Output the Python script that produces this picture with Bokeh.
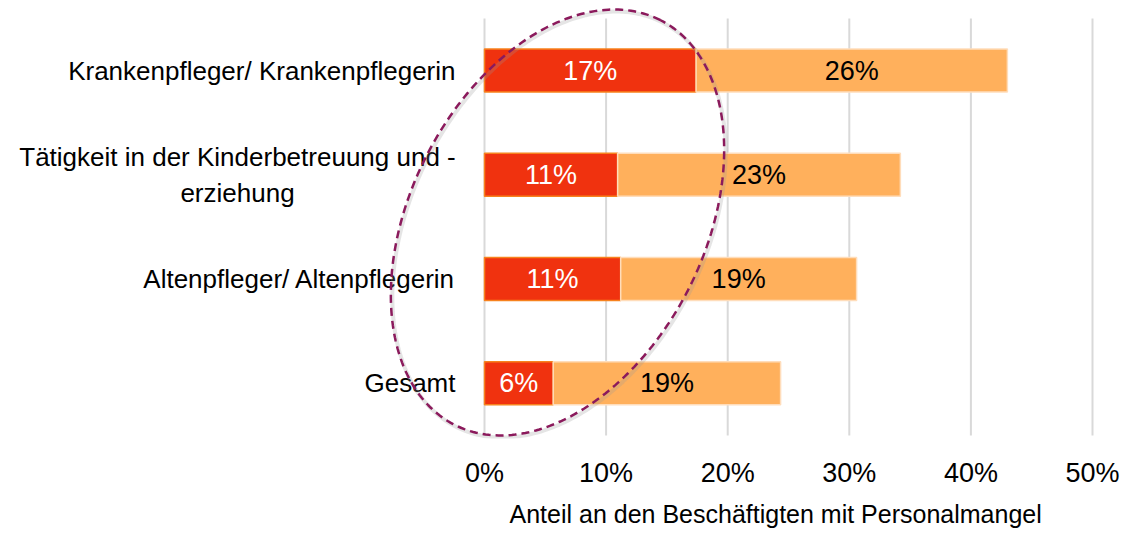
import numpy as np
from bokeh.plotting import figure
from bokeh.models import Range1d, FixedTicker, ColumnDataSource, Title
from bokeh.core.properties import value
from bokeh.embed import file_html
from bokeh.resources import INLINE

categories = ["Gesamt", "Altenpfleger/ Altenpflegerin",
              "Tätigkeit in der Kinderbetreuung und -\nerziehung",
              "Krankenpfleger/ Krankenpflegerin"]
dark_values = [5.65, 11.2, 10.95, 17.4]
light_values = [18.7, 19.4, 23.25, 25.6]
dark_labels = ["6%", "11%", "11%", "17%"]
light_labels = ["19%", "19%", "23%", "26%"]
x_ticks = [0, 10, 20, 30, 40, 50]
x_tick_labels = ["0%", "10%", "20%", "30%", "40%", "50%"]
x_title = "Anteil an den Beschäftigten mit Personalmangel"

FONT = "Liberation Sans"
FS = "26px"

# canvas geometry (pixels)
W, H = 1128, 536
FRAME_BOTTOM = 438            # frame spans canvas y 0..438
X0_PX, PX_PER_PCT = 484.0, 12.16
ROW_PX, TOP_ROW_PX = 104.25, 70.0

x_lo = -X0_PX / PX_PER_PCT
x_hi = x_lo + W / PX_PER_PCT
n = len(categories)
y_hi = (n - 1) + TOP_ROW_PX / ROW_PX
y_lo = y_hi - FRAME_BOTTOM / ROW_PX

p = figure(width=W, height=H, output_backend="svg", toolbar_location=None,
           x_range=Range1d(x_lo, x_hi), y_range=Range1d(y_lo, y_hi),
           min_border_left=0, min_border_right=0, min_border_top=0,
           min_border_bottom=H - FRAME_BOTTOM)
p.outline_line_color = None
p.background_fill_color = "white"
p.border_fill_color = "white"
p.yaxis.visible = False
p.xgrid.grid_line_color = None
p.ygrid.grid_line_color = None

# vertical grid lines at x ticks, spanning the category band
p.segment(x0=x_ticks, x1=x_ticks, y0=[-0.5] * len(x_ticks), y1=[n - 0.5] * len(x_ticks),
          line_color="#D9D9D9", line_width=2)

ypos = list(range(n))
dark_end = list(dark_values)
light_end = [d + l for d, l in zip(dark_values, light_values)]
src = ColumnDataSource(dict(
    y=ypos, d0=[0] * n, d1=dark_end, l1=light_end,
    dmid=[d / 2 for d in dark_end],
    lmid=[(d + e) / 2 for d, e in zip(dark_end, light_end)],
    dlab=dark_labels, llab=light_labels))

bh = 43 / ROW_PX
p.hbar(y="y", left="d0", right="d1", height=bh, source=src,
       fill_color="#F0320F", line_color="#F7821E", line_width=1.5)
p.hbar(y="y", left="d1", right="l1", height=bh, source=src,
       fill_color="#FFB05C", line_color="#FFDDBB", line_width=1.5)

p.text(x="dmid", y="y", text="dlab", source=src, text_align="center",
       text_baseline="middle", text_color="white",
       text_font=value(FONT), text_font_size="27px")
p.text(x="lmid", y="y", text="llab", source=src, text_align="center",
       text_baseline="middle", text_color="black",
       text_font=value(FONT), text_font_size="27px")

# category labels (right-aligned block; the two-line one is centred line by line)
lab_right = -29 / PX_PER_PCT
lab_center2 = -247 / PX_PER_PCT
cat_src = ColumnDataSource(dict(
    x=[lab_right, lab_right, lab_center2, lab_right], y=ypos, t=categories,
    al=["right", "right", "center", "right"]))
p.text(x="x", y="y", text="t", source=cat_src, text_align="al", text_baseline="middle",
       text_color="black", text_font=value(FONT), text_font_size=FS,
       text_line_height=1.2)

# x axis
p.xaxis.ticker = FixedTicker(ticks=x_ticks)
p.xaxis.major_label_overrides = {t: s for t, s in zip(x_ticks, x_tick_labels)}
ax = p.xaxis[0]
ax.axis_line_color = None
ax.major_tick_line_color = None
ax.minor_tick_line_color = None
ax.major_label_text_font = FONT
ax.major_label_text_font_size = "27px"
ax.major_label_text_color = "black"
ax.major_label_standoff = 13

# axis title, placed under the plotted region
p.add_layout(Title(text=x_title, align="left", offset=509, text_font=FONT,
                   text_font_size="25px", text_font_style="normal",
                   text_color="black", standoff=14, vertical_align="bottom"), "below")

# dashed highlight ellipse (decoration), defined in pixels and mapped to data units
cx = (557 - X0_PX) / PX_PER_PCT
cy = (n - 1) - (222 - TOP_ROW_PX) / ROW_PX
a, b, th = 227.0, 147.0, np.deg2rad(63)
t = np.linspace(0, 2 * np.pi, 300)
dxp = a * np.cos(t) * np.cos(th) - b * np.sin(t) * np.sin(th)
dyp = a * np.cos(t) * np.sin(th) + b * np.sin(t) * np.cos(th)
ex = cx + dxp / PX_PER_PCT
ey = cy + dyp / ROW_PX
p.line(ex + 1.5 / PX_PER_PCT, ey - 2.0 / ROW_PX, line_color="#999999", line_alpha=0.25,
       line_width=4)
p.line(ex, ey, line_color="#8B1A5C", line_width=2.5, line_dash="8 5")

open("out.html", "w").write(file_html(p, INLINE))
